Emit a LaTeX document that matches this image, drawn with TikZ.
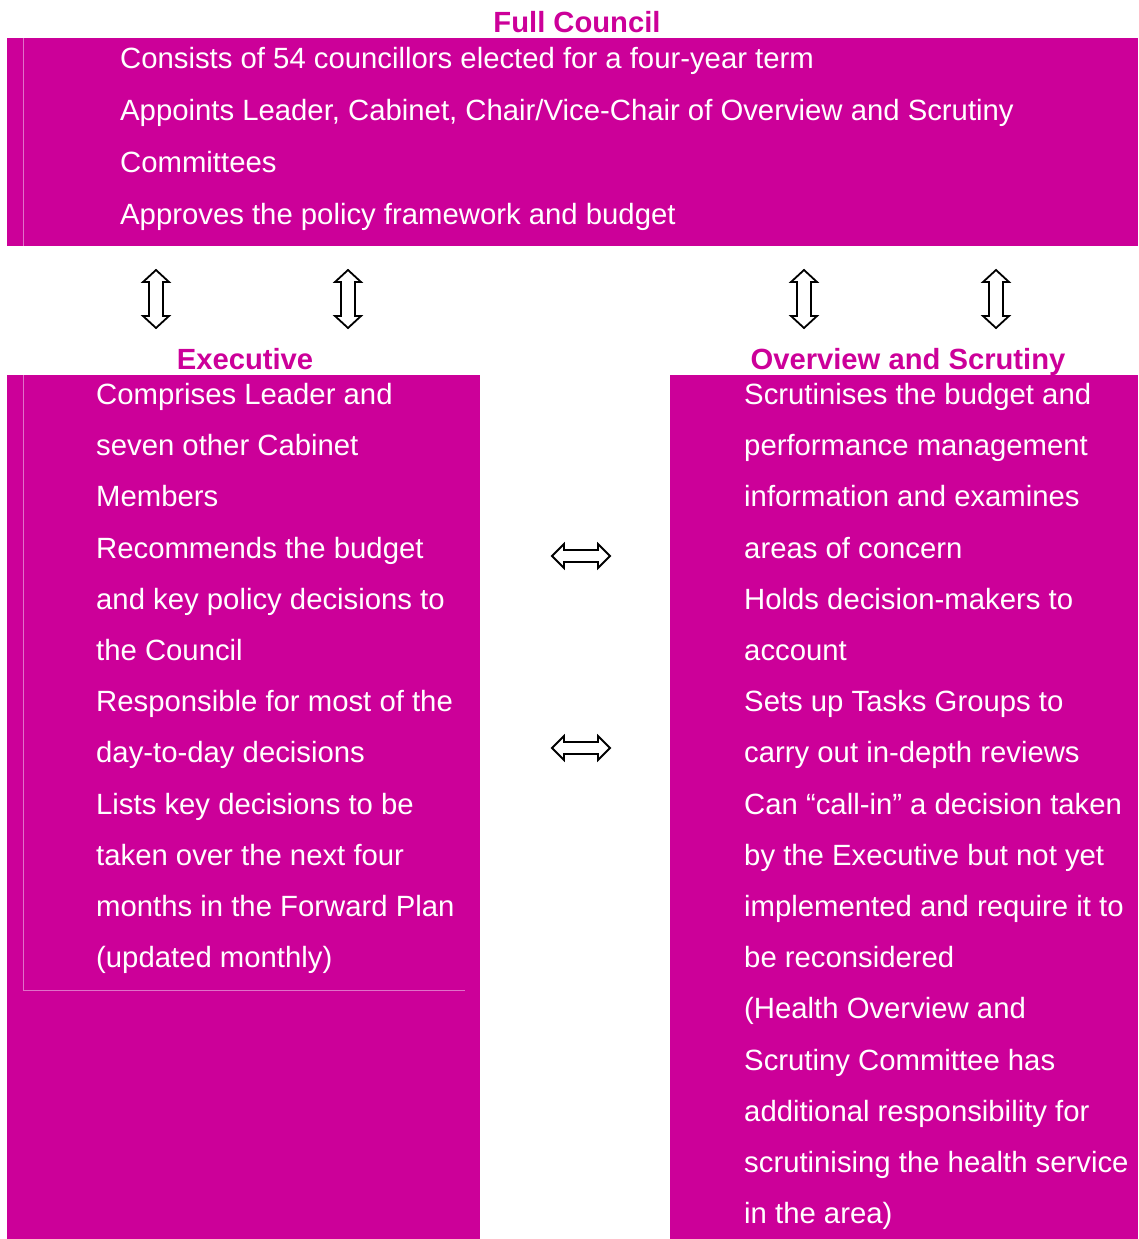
\documentclass[tikz,border=0pt]{standalone}
\usepackage{fontspec}
\setmainfont{Liberation Sans}
\definecolor{mag}{HTML}{CC0099}
\definecolor{faint}{HTML}{E070C8}
\tikzset{
  box/.style={fill=mag, draw=none},
  bodytext/.style={anchor=base west, inner sep=0pt, text=white, font=\fontsize{29.3}{34}\selectfont},
  titletext/.style={anchor=base, inner sep=0pt, text=mag, font=\fontsize{29.2}{34}\selectfont\bfseries},
  arr/.style={draw=black, line width=1.8pt, fill=white, line join=miter},
  faintline/.style={draw=faint, line width=1pt},
  varrow/.pic={\path[arr] (0,-29) -- (13,-17) -- (7,-17) -- (7,17) -- (13,17) -- (0,29) -- (-13,17) -- (-7,17) -- (-7,-17) -- (-13,-17) -- cycle;},
  harrow/.pic={\path[arr] (-29,0) -- (-17,-12) -- (-17,-6) -- (17,-6) -- (17,-12) -- (29,0) -- (17,12) -- (17,6) -- (-17,6) -- (-17,12) -- cycle;}
}
\begin{document}
\begin{tikzpicture}[x=1pt,y=-1pt]
\useasboundingbox (0,0) rectangle (1138,1239);
% boxes
\path[box] (7,38) rectangle (1138,246);
\path[box] (7,375) rectangle (480,1239);
\path[box] (670,375) rectangle (1138,1239);
\draw[faintline] (23,38) -- (23,246);
\draw[faintline] (23,375) -- (23,990) -- (465,990);
% titles
\node[titletext] (tfull) at (577,32.5) {Full Council};
\node[titletext] (texec) at (245,369.5) {Executive};
\node[titletext] (tscr) at (908,369.5) {Overview and Scrutiny};
% top text
\foreach \t [count=\i] in {
  {Consists of 54 councillors elected for a four-year term},
  {Appoints Leader, Cabinet, Chair/Vice-Chair of Overview and Scrutiny},
  {Committees},
  {Approves the policy framework and budget}}
  \node[bodytext] (full\i) at (120,68.4+52*\i-52) {\t};
% executive text
\foreach \t [count=\i] in {
  {Comprises Leader and},
  {seven other Cabinet},
  {Members},
  {Recommends the budget},
  {and key policy decisions to},
  {the Council},
  {Responsible for most of the},
  {day-to-day decisions},
  {Lists key decisions to be},
  {taken over the next four},
  {months in the Forward Plan},
  {(updated monthly)}}
  \node[bodytext] (exec\i) at (96,404.4+51.2*\i-51.2) {\t};
% scrutiny text
\foreach \t [count=\i] in {
  {Scrutinises the budget and},
  {performance management},
  {information and examines},
  {areas of concern},
  {Holds decision-makers to},
  {account},
  {Sets up Tasks Groups to},
  {carry out in-depth reviews},
  {Can “call-in” a decision taken},
  {by the Executive but not yet},
  {implemented and require it to},
  {be reconsidered},
  {(Health Overview and},
  {Scrutiny Committee has},
  {additional responsibility for},
  {scrutinising the health service},
  {in the area)}}
  \node[bodytext] (scr\i) at (744,404.4+51.2*\i-51.2) {\t};
% arrows
\pic (va1) at (156,299) {varrow};
\pic (va2) at (348,299) {varrow};
\pic (va3) at (804,299) {varrow};
\pic (va4) at (996,299) {varrow};
\pic (ha1) at (581,556) {harrow};
\pic (ha2) at (581,748) {harrow};
\end{tikzpicture}
\end{document}
